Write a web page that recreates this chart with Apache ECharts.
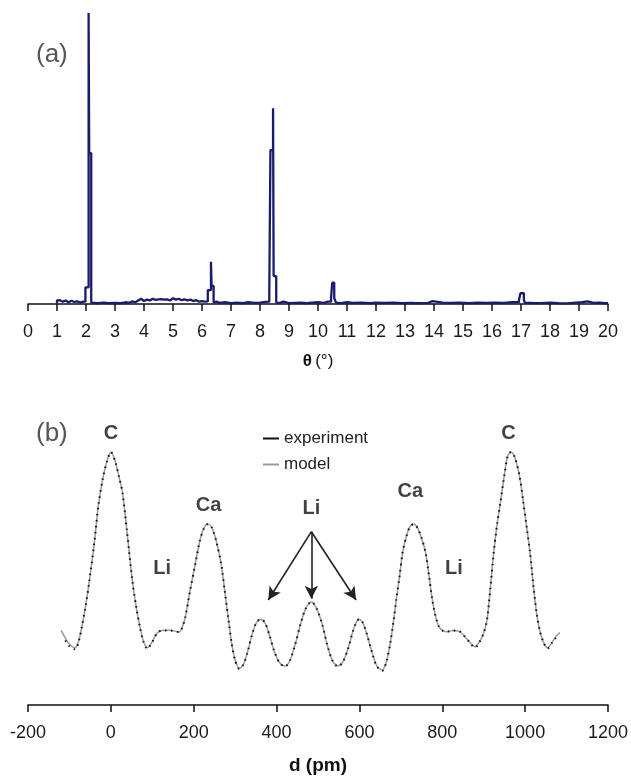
<!DOCTYPE html>
<html>
<head>
<meta charset="utf-8">
<script src="https://cdn.jsdelivr.net/npm/echarts@6/dist/echarts.min.js"></script>
<style>
html,body{margin:0;padding:0;background:#fff;}
#chart{width:631px;height:783px;}
</style>
</head>
<body>
<div id="chart"></div>
<script>
// ---------- Panel (a): diffraction pattern ----------
const thetaValues = [
  1.00,1.00,1.05,1.10,1.20,1.30,1.40,1.50,1.60,1.70,1.80,1.90,1.98,
  1.98,2.09,2.09,2.11,2.11,2.18,2.18,
  2.20,2.40,2.60,2.80,3.00,3.20,3.40,3.50,3.60,3.70,3.80,3.90,4.00,4.10,4.20,4.30,4.40,4.50,4.60,4.70,4.80,4.90,5.00,5.10,5.20,5.30,5.40,5.50,5.60,5.70,5.80,5.90,6.00,6.10,6.20,
  6.20,6.31,6.31,6.33,6.33,6.40,6.40,
  6.50,6.60,6.80,7.00,7.20,7.40,7.60,7.80,8.00,8.20,8.32,
  8.32,8.36,8.36,8.45,8.45,8.47,8.47,8.56,8.56,
  8.70,8.80,9.00,9.20,9.40,9.60,9.80,10.00,10.20,10.35,10.45,
  10.45,10.49,10.49,10.56,10.56,10.62,10.62,
  10.80,11.00,11.20,11.50,11.80,12.00,12.30,12.60,12.90,13.20,13.50,13.80,13.95,14.00,14.30,14.60,14.90,15.20,15.50,15.80,16.10,16.40,16.70,16.93,
  16.93,16.98,16.98,17.10,17.10,17.13,
  17.40,17.70,18.00,18.30,18.60,18.90,19.10,19.15,19.30,19.35,19.50,19.70,19.90,20.00
];
const intensityValues = [
  0.3,1.2,1.0,1.3,0.8,1.2,0.6,1.1,0.7,0.9,0.5,0.8,0.8,
  5.7,5.7,100,100,51.8,51.8,0.5,
  0.4,0.3,0.5,0.3,0.4,0.3,0.6,0.4,0.9,0.6,1.2,1.8,1.0,1.5,1.2,1.8,1.4,1.6,1.7,1.5,1.6,1.2,2.0,1.5,1.8,1.3,1.6,1.2,1.5,1.0,1.3,0.8,1.0,0.8,0.9,
  4.8,4.8,14.5,14.5,6.2,6.2,0.5,
  0.8,0.4,0.6,0.3,0.5,0.3,0.6,0.4,0.5,0.7,0.8,
  3.8,3.8,52.9,52.9,67.3,67.3,9.6,9.6,0.5,
  0.4,0.8,0.3,0.4,0.5,0.3,0.5,0.6,0.4,0.8,0.8,
  2.0,2.0,7.3,7.3,2.0,2.0,0.5,
  0.3,0.6,0.4,0.5,0.3,0.5,0.4,0.5,0.3,0.4,0.3,0.4,1.0,0.4,0.5,0.4,0.5,0.3,0.5,0.4,0.5,0.4,0.6,0.6,
  1.4,1.4,3.7,3.7,1.4,0.5,
  0.4,0.3,0.5,0.3,0.2,0.5,0.6,0.9,0.9,0.5,0.4,0.5,0.3,0.3
];
const thetaTicks = {min: 0, max: 20, interval: 1};

// ---------- Panel (b): density profile ----------
const dValues = [
  -120,-110,-100,-86,-77,-70,-62,-52,-40,-30,-20,-10,0,10,20,28,38,52,62,70,78,88,
  100,112,123,140,155,164,172,180,191,204,215,225,234,244,254,266,275,284,292,300,310,
  320,330,342,352,362,372,383,395,407,420,432,445,458,470,484,497,510,522,535,548,
  560,572,584,592,599,608,618,630,642,655,665,675,683,690,697,704,713,722,731,740,750,760,768,776,784,792,
  802,812,825,840,852,865,879,890,900,908,916,924,932,940,950,958,966,975,987,996,1004,1012,1020,1028,1036,1045,1054,1064,1074,1084
];
const modelValues = [
  29.5,26.5,24.0,22.6,25.7,31,38,49,64,79,89,96,100,96.5,90,84,70,49,38,31,25.5,22.6,
  25,28.5,29.4,29.5,29.2,28.8,30.5,35,45,56,65,70,71.5,70,65,56,45,33.6,24,17.8,14.5,
  16,21,28.5,32.8,33.9,32.5,27.5,21,16.8,15.4,17.5,24,32,38,40.8,38,32,24,17.5,15.4,
  17,22,29,32.5,33.9,32.5,28,21,15.5,13.8,17,25,34,42.8,51,60,66.5,70.5,71.5,70,66,60,51,41.5,35,31,
  29.3,29,29.4,29.2,27.5,25,23,25,28.5,33.6,46,60,71,79.7,91,98.5,100,98,90,79.7,70,60,47,36,29,24.5,22.6,24.5,27,28.6
];
const experimentValues = [
  null,25.5,23.2,22.0,25.5,31,38,49,64,79,89,96,100,96.5,90,84,70,49,38,31,25.3,22.2,
  25,28.5,29.4,29.5,29.2,28.8,30.5,35,45,56,65,70,71.5,70,65,56,45,33.6,24,17.6,14.3,
  16,21,28.5,32.8,33.9,32.5,27.5,21,16.8,15.2,17.5,24,32,38,40.8,38,32,24,17.5,15.2,
  17,22,29,32.5,33.9,32.5,28,21,15.3,13.5,17,25,34,42.8,51,60,66.5,70.5,71.5,70,66,60,51,41.5,35,31,
  29.3,29,29.4,29.2,27.5,25,22.7,25,28.5,33.6,46,60,71,79.7,91,98.5,100,98,90,79.7,70,60,47,36,29,24.5,22.3,24.5,26.5,null
];
const dTicks = {min: -200, max: 1200, interval: 200};

// annotation texts and where they sit in data space (d, profile value)
const atomLabels = ['C','Li','Ca','Li','Ca','Li','C'];
const atomLabelD = [0, 124, 236, 484, 723, 828, 960];
const atomLabelV = [107.5, 54, 78.7, 77.7, 84.3, 54, 107.5];
const arrowFrom = [484, 68.5];
const arrowTips = [[380, 41.5], [484, 42], [592, 41.5]];

const pairs = (xs, ys) => xs.map((x, i) => [x, ys[i]]);

const FONT = "'Liberation Sans',Arial,sans-serif";
const axisCommon = {
  axisLine: {show: true, onZero: false, lineStyle: {color: '#111', width: 1.5}},
  axisTick: {show: true, inside: false, length: 7, lineStyle: {color: '#111', width: 1.5}},
  splitLine: {show: false},
  axisLabel: {color: '#1a1a1a', fontSize: 18, fontFamily: FONT, margin: 19, formatter: v => String(v)}
};

const chart = echarts.init(document.getElementById('chart'), null, {renderer: 'canvas'});
chart.setOption({
  animation: false,
  backgroundColor: '#fff',
  grid: [
    {left: 28, right: 23, top: 13, bottom: 479},
    {left: 28, right: 23, top: 452, bottom: 78}
  ],
  xAxis: [
    Object.assign({}, axisCommon, {
      type: 'value', gridIndex: 0,
      min: thetaTicks.min, max: thetaTicks.max, interval: thetaTicks.interval,
      name: '{b|θ} {n|(°)}', nameLocation: 'middle', nameGap: 49,
      nameTextStyle: {rich: {
        b: {fontSize: 17, fontWeight: 'bold', fontFamily: FONT, color: '#111'},
        n: {fontSize: 17, fontFamily: FONT, color: '#111'}
      }}
    }),
    Object.assign({}, axisCommon, {
      type: 'value', gridIndex: 1,
      min: dTicks.min, max: dTicks.max, interval: dTicks.interval,
      name: 'd (pm)', nameLocation: 'middle', nameGap: 51,
      nameTextStyle: {fontSize: 19, fontWeight: 'bold', fontFamily: FONT, color: '#111'}
    })
  ],
  yAxis: [
    {type: 'value', gridIndex: 0, min: 0, max: 100, show: false},
    {type: 'value', gridIndex: 1, min: 0, max: 100, show: false}
  ],
  legend: {
    data: ['experiment', 'model'],
    orient: 'vertical',
    left: 258, top: 425,
    itemWidth: 16, itemHeight: 2, itemGap: 9,
    icon: 'rect',
    textStyle: {fontSize: 17, fontFamily: FONT, color: '#222'}
  },
  graphic: [
    {type: 'text', left: 36, top: 42, style: {text: '(a)', fontSize: 26, fontFamily: FONT, fill: '#555'}},
    {type: 'text', left: 36, top: 421, style: {text: '(b)', fontSize: 26, fontFamily: FONT, fill: '#555'}}
  ],
  series: [
    {
      type: 'line', xAxisIndex: 0, yAxisIndex: 0,
      data: pairs(thetaValues, intensityValues),
      showSymbol: false, symbol: 'none',
      lineStyle: {color: '#1b1b6e', width: 2.3},
      itemStyle: {color: '#1b1b6e'}
    },
    {
      name: 'model', type: 'line', xAxisIndex: 1, yAxisIndex: 1,
      data: pairs(dValues, modelValues),
      showSymbol: false, symbol: 'none', smooth: 0.3,
      lineStyle: {color: '#9a9a9a', width: 1.5},
      itemStyle: {color: '#9a9a9a'}
    },
    {
      name: 'experiment', type: 'line', xAxisIndex: 1, yAxisIndex: 1,
      data: pairs(dValues, experimentValues),
      showSymbol: false, symbol: 'none', smooth: 0.3, connectNulls: false,
      lineStyle: {color: '#111', width: 2, type: [1.5, 4.5]},
      itemStyle: {color: '#111'}
    },
    {
      type: 'scatter', xAxisIndex: 1, yAxisIndex: 1, clip: false,
      symbolSize: 0, silent: true,
      data: atomLabelD.map((d, i) => ({value: [d, atomLabelV[i]], name: atomLabels[i]})),
      label: {
        show: true, position: 'inside', formatter: p => p.name,
        fontSize: 20, fontWeight: 'bold', fontFamily: FONT, color: '#111'
      },
      markLine: {
        silent: true, animation: false,
        symbol: ['none', 'arrow'], symbolSize: [10, 13],
        label: {show: false},
        lineStyle: {color: '#222', width: 1.6, type: 'solid'},
        data: arrowTips.map(t => [{coord: arrowFrom}, {coord: t}])
      }
    }
  ]
});
</script>
</body>
</html>
